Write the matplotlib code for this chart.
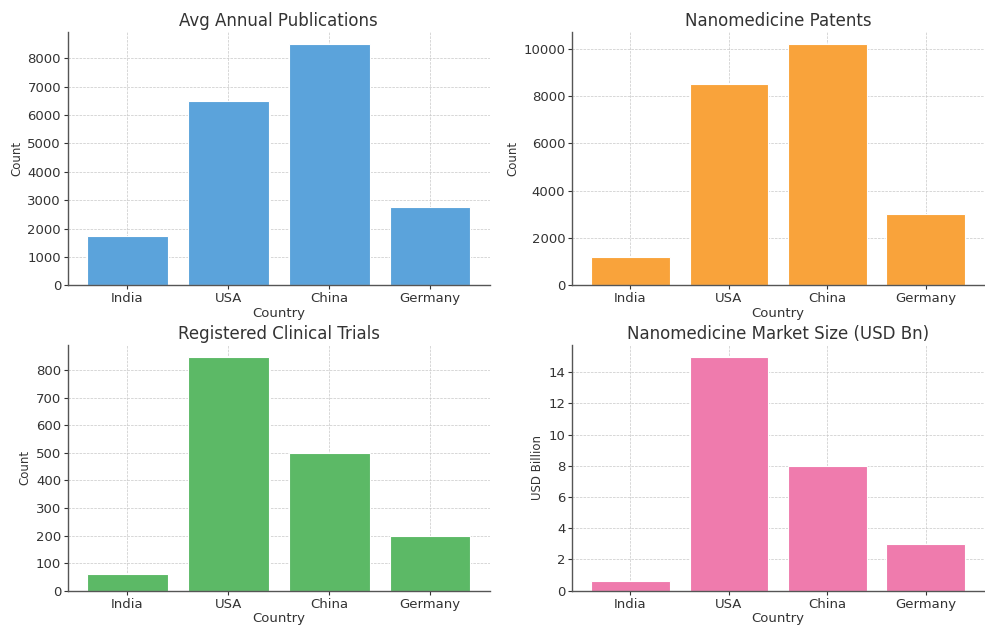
import matplotlib
matplotlib.use("Agg")
import matplotlib.pyplot as plt

# data
countries = ["India", "USA", "China", "Germany"]
publications = [1750, 6500, 8500, 2750]
patents = [1200, 8500, 10200, 3000]
trials = [60, 850, 500, 200]
market_bn = [0.6, 15, 8, 3]

panels = [
    ("Avg Annual Publications", publications, "Count", "#5ba3db"),
    ("Nanomedicine Patents", patents, "Count", "#f9a33b"),
    ("Registered Clinical Trials", trials, "Count", "#5cb966"),
    ("Nanomedicine Market Size (USD Bn)", market_bn, "USD Billion", "#ef7bad"),
]

text_col = "#333333"
plt.rcParams["text.color"] = text_col
plt.rcParams["axes.labelcolor"] = text_col
plt.rcParams["xtick.color"] = text_col
plt.rcParams["ytick.color"] = text_col

fig = plt.figure(figsize=(9.85, 6.27), dpi=100)

# axes boxes [left, bottom, width, height] in figure fractions
boxes = [
    [0.069, 0.545, 0.428, 0.404],
    [0.581, 0.545, 0.418, 0.404],
    [0.069, 0.058, 0.428, 0.392],
    [0.581, 0.058, 0.418, 0.392],
]

for (title, vals, ylab, color), box in zip(panels, boxes):
    ax = fig.add_axes(box)
    ax.bar(countries, vals, color=color, edgecolor="white", linewidth=0.8, zorder=2)
    ax.set_title(title, fontsize=12, color=text_col, pad=4)
    ax.set_xlabel("Country", fontsize=9.5, labelpad=1)
    ax.set_ylabel(ylab, fontsize=8.5, labelpad=3)
    ax.tick_params(axis="both", labelsize=9.5, length=3, width=0.8, pad=2)
    ax.grid(True, linestyle="--", linewidth=0.5, color="#c8c8c8", zorder=0)
    ax.set_axisbelow(True)
    for side in ("top", "right"):
        ax.spines[side].set_visible(False)
    for side in ("left", "bottom"):
        ax.spines[side].set_color("#555555")
        ax.spines[side].set_linewidth(1.0)

fig.savefig("out.png", dpi=100)
